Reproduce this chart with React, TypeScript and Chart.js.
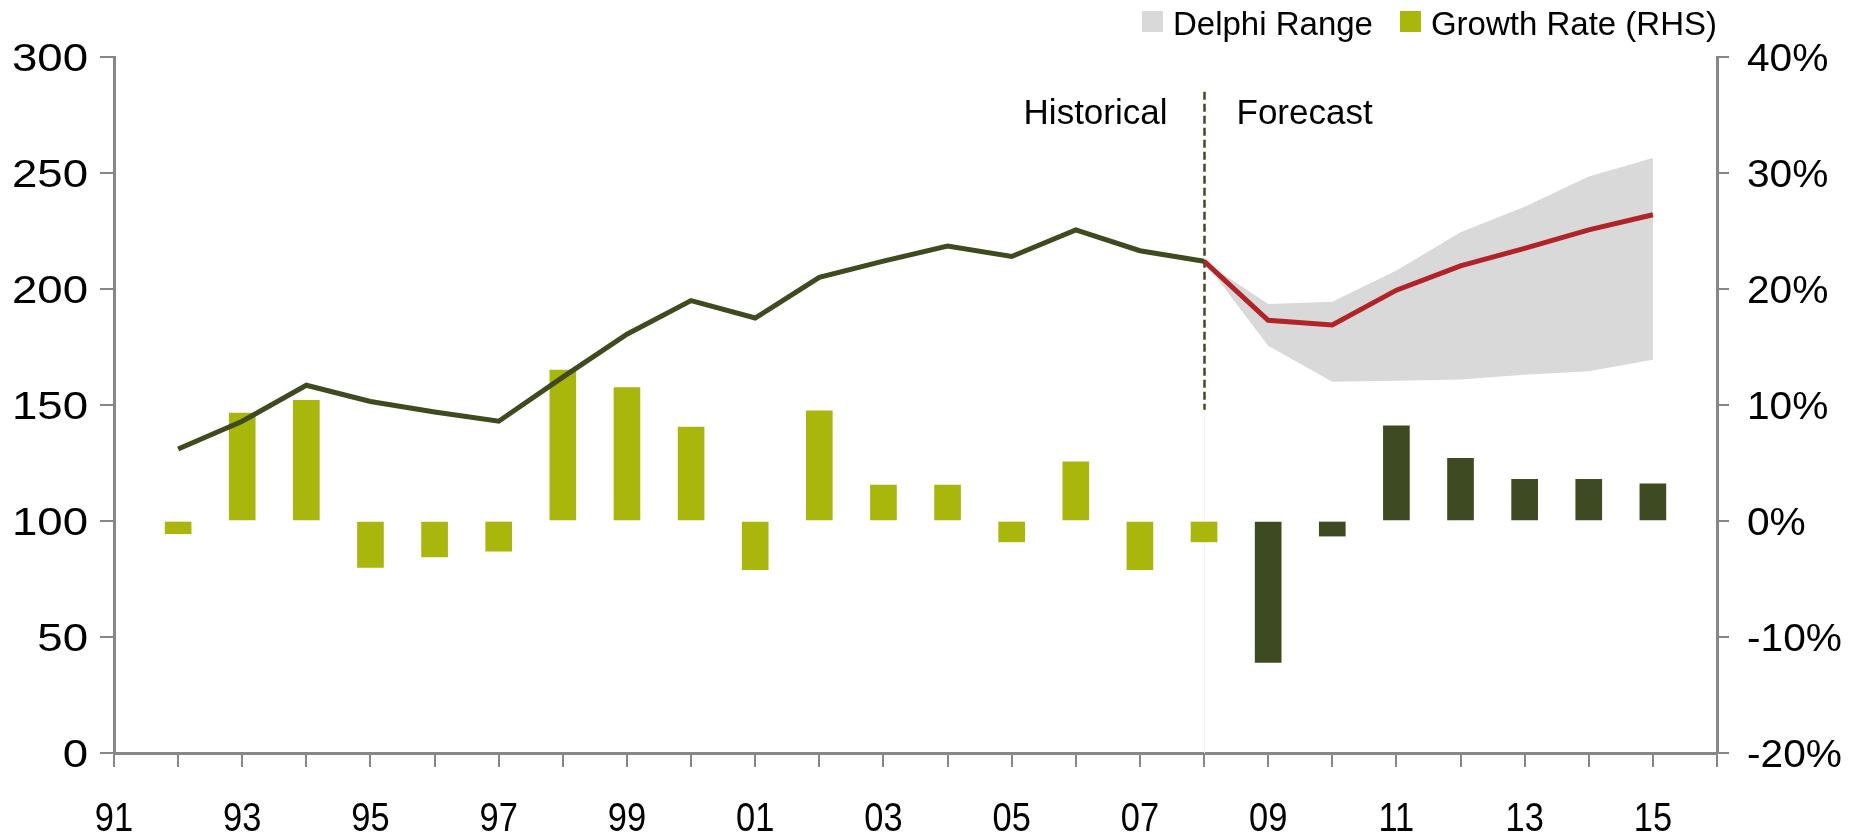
import React, { useEffect, useRef } from 'react';
import { Chart, registerables } from 'chart.js';

Chart.register(...registerables);

// ---------- data ----------
const histYears = [1992, 1993, 1994, 1995, 1996, 1997, 1998, 1999, 2000, 2001, 2002, 2003, 2004, 2005, 2006, 2007, 2008];
const histIndex = [131, 143, 158.5, 151.5, 147, 143, 162, 180.5, 195, 187.5, 205, 212, 218.5, 214, 225.5, 216.5, 212];

const fcstYears = [2008, 2009, 2010, 2011, 2012, 2013, 2014, 2015];
const fcstIndex = [212, 186.5, 184.5, 199.5, 210, 217.5, 225.5, 232];
const rangeHigh = [212, 193.5, 194.5, 208, 224.5, 235.5, 248.5, 256.5];
const rangeLow = [212, 175.5, 160, 160.5, 161, 163, 164.5, 169.5];

const histGrowthYears = [1992, 1993, 1994, 1995, 1996, 1997, 1998, 1999, 2000, 2001, 2002, 2003, 2004, 2005, 2006, 2007, 2008];
const histGrowth = [-1.1, 9.3, 10.4, -4.0, -3.1, -2.6, 13.0, 11.5, 8.1, -4.2, 9.5, 3.1, 3.1, -1.8, 5.1, -4.2, -1.8];
const fcstGrowthYears = [2009, 2010, 2011, 2012, 2013, 2014, 2015];
const fcstGrowth = [-12.2, -1.3, 8.2, 5.4, 3.6, 3.6, 3.2];

const xTickLabels = ['91', '93', '95', '97', '99', '01', '03', '05', '07', '09', '11', '13', '15'];
const legendLabels = ['Delphi Range', 'Growth Rate (RHS)'];
const dividerYear = 2008;
const dividerFrom = 148;
const dividerTo = 285;
const annotationLevel = 271;
const annotationLeft = 'Historical';
const annotationRight = 'Forecast';

// ---------- style ----------
const FONT = "'Liberation Sans', Arial, sans-serif";
const OLIVE = '#3f4a1f';
const RED = '#b22328';
const GRAY = '#d9d9d9';
const LIME = '#a9b60b';
const DARK = '#3d4a22';
const AXIS = '#878787';

const toXY = (xs: number[], ys: number[]) => xs.map((x, i) => ({ x, y: ys[i] }));

function stretchText(ctx: any, text: string, x: number, y: number, align: string, sx: number) {
  ctx.save();
  ctx.translate(x, y);
  ctx.scale(sx, 1);
  ctx.textAlign = align;
  ctx.textBaseline = 'alphabetic';
  ctx.fillText(text, 0, 0);
  ctx.restore();
}

const overlayPlugin = {
  id: 'overlay',
  beforeDatasetsDraw(chart: any) {
    const { ctx, chartArea, scales } = chart;
    const xs = scales.x;
    const ys = scales.y;
    const x = Math.round(xs.getPixelForValue(dividerYear)) + 0.5;
    ctx.save();
    ctx.strokeStyle = '#f1f1f1';
    ctx.lineWidth = 1;
    ctx.beginPath();
    ctx.moveTo(x, ys.getPixelForValue(dividerFrom));
    ctx.lineTo(x, chartArea.bottom);
    ctx.stroke();
    ctx.strokeStyle = OLIVE;
    ctx.lineWidth = 2.5;
    ctx.setLineDash([8, 4]);
    ctx.beginPath();
    ctx.moveTo(x, ys.getPixelForValue(dividerTo));
    ctx.lineTo(x, ys.getPixelForValue(dividerFrom));
    ctx.stroke();
    ctx.setLineDash([]);
    ctx.fillStyle = '#000';
    ctx.font = `35px ${FONT}`;
    ctx.textBaseline = 'alphabetic';
    const ty = ys.getPixelForValue(annotationLevel);
    ctx.textAlign = 'right';
    ctx.fillText(annotationLeft, x - 37, ty);
    ctx.textAlign = 'left';
    ctx.fillText(annotationRight, x + 32, ty);
    ctx.restore();
  },
  afterDraw(chart: any) {
    const { ctx, chartArea, scales } = chart;
    ctx.save();
    ctx.fillStyle = '#000';

    // left axis labels
    const yl = scales.y;
    ctx.font = `38px ${FONT}`;
    yl.ticks.forEach((t: any, i: number) => {
      const py = yl.getPixelForTick(i);
      stretchText(ctx, String(t.label), chartArea.left - 26, py + 14, 'right', 1.2);
    });

    // right axis labels
    const yr = scales.y2;
    ctx.font = `38px ${FONT}`;
    yr.ticks.forEach((t: any, i: number) => {
      const py = yr.getPixelForTick(i);
      stretchText(ctx, String(t.label), chartArea.right + 30, py + 14, 'left', 1.07);
    });

    // bottom axis labels
    const xb = scales.x;
    ctx.font = `40px ${FONT}`;
    xb.ticks.forEach((t: any, i: number) => {
      if (!t.label) return;
      const px = xb.getPixelForTick(i);
      stretchText(ctx, String(t.label), px, chartArea.bottom + 78, 'center', 0.86);
    });

    // legend
    const items = legendLabels.map((lab) => {
      const ds = chart.data.datasets.find((d: any) => d.label === lab);
      return { text: lab, color: ds.backgroundColor };
    });
    ctx.font = `33px ${FONT}`;
    ctx.textBaseline = 'alphabetic';
    ctx.textAlign = 'left';
    const box = 21;
    const gapBoxText = 10;
    const gapItems = 27;
    const widths = items.map((it) => box + gapBoxText + ctx.measureText(it.text).width);
    const total = widths.reduce((a, b) => a + b, 0) + gapItems * (items.length - 1);
    let x = chartArea.right - total;
    const baseY = 35;
    items.forEach((it, i) => {
      ctx.fillStyle = it.color;
      ctx.fillRect(x, baseY - 24, box, box);
      ctx.fillStyle = '#000';
      ctx.fillText(it.text, x + box + gapBoxText, baseY);
      x += widths[i] + gapItems;
    });
    ctx.restore();
  },
};

export default function App() {
  const ref = useRef<HTMLCanvasElement | null>(null);

  useEffect(() => {
    if (!ref.current) return;
    const chart = new Chart(ref.current, {
      type: 'bar',
      data: {
        datasets: [
          {
            type: 'line',
            label: 'Index',
            data: toXY(histYears, histIndex),
            borderColor: OLIVE,
            borderWidth: 5,
            pointRadius: 0,
            fill: false,
            yAxisID: 'y',
            order: 0,
          },
          {
            type: 'line',
            label: 'Index Forecast',
            data: toXY(fcstYears, fcstIndex),
            borderColor: RED,
            borderWidth: 5,
            pointRadius: 0,
            fill: false,
            yAxisID: 'y',
            order: 0,
          },
          {
            type: 'line',
            label: 'Delphi Range',
            data: toXY(fcstYears, rangeHigh),
            borderColor: 'rgba(0,0,0,0)',
            backgroundColor: GRAY,
            pointRadius: 0,
            fill: '+1',
            yAxisID: 'y',
            order: 1,
          },
          {
            type: 'line',
            label: 'Delphi Low',
            data: toXY(fcstYears, rangeLow),
            borderColor: 'rgba(0,0,0,0)',
            backgroundColor: GRAY,
            pointRadius: 0,
            fill: false,
            yAxisID: 'y',
            order: 1,
          },
          {
            type: 'bar',
            label: 'Growth Rate (RHS)',
            data: toXY(histGrowthYears, histGrowth),
            backgroundColor: LIME,
            barThickness: 26,
            grouped: false,
            yAxisID: 'y2',
            order: 2,
          },
          {
            type: 'bar',
            label: 'Growth Forecast',
            data: toXY(fcstGrowthYears, fcstGrowth),
            backgroundColor: DARK,
            barThickness: 26,
            grouped: false,
            yAxisID: 'y2',
            order: 2,
          },
        ] as any,
      },
      options: {
        animation: false,
        responsive: true,
        maintainAspectRatio: false,
        devicePixelRatio: 1,
        layout: { padding: { top: 57, left: 0, right: 0, bottom: 0 } },
        plugins: {
          legend: { display: false },
          tooltip: { enabled: false },
          title: { display: false },
        },
        scales: {
          x: {
            type: 'linear',
            min: 1991,
            max: 2016,
            offset: false,
            ticks: {
              display: false,
              stepSize: 1,
              autoSkip: false,
              maxRotation: 0,
              minRotation: 0,
              callback: (v: any) => {
                const s = String(Number(v) % 100).padStart(2, '0');
                return xTickLabels.includes(s) && Number(v) < 2016 ? s : '';
              },
            },
            grid: { drawOnChartArea: false, drawTicks: true, tickLength: 14, color: AXIS, lineWidth: 2, offset: false },
            border: { color: AXIS, width: 3 },
            afterFit: (s: any) => {
              s.height = 80;
            },
          },
          y: {
            type: 'linear',
            position: 'left',
            min: 0,
            max: 300,
            ticks: { display: false, stepSize: 50 },
            grid: { drawOnChartArea: false, drawTicks: true, tickLength: 14, color: AXIS, lineWidth: 2 },
            border: { color: AXIS, width: 3 },
            afterFit: (s: any) => {
              s.width = 114;
            },
          },
          y2: {
            type: 'linear',
            position: 'right',
            min: -20,
            max: 40,
            ticks: {
              display: false,
              stepSize: 10,
              callback: (v: any) => `${v}%`,
            },
            grid: { drawOnChartArea: false, drawTicks: true, tickLength: 12, color: AXIS, lineWidth: 2 },
            border: { color: AXIS, width: 3 },
            afterFit: (s: any) => {
              s.width = 137;
            },
          },
        },
      } as any,
      plugins: [overlayPlugin],
    });
    return () => chart.destroy();
  }, []);

  return (
    <div style={{ position: 'absolute', left: 0, top: 0, width: 1854, height: 833, background: '#fff' }}>
      <canvas ref={ref} />
    </div>
  );
}
